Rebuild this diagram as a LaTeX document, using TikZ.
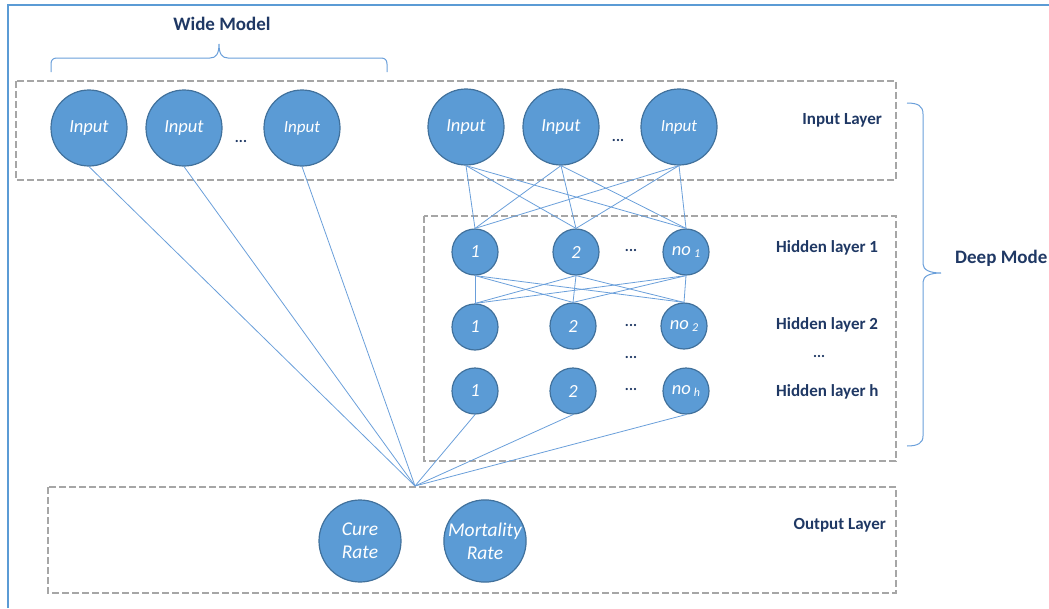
\documentclass[tikz,border=0pt]{standalone}
\usepackage{fontspec}
\setmainfont{Carlito}
\begin{document}
\begin{tikzpicture}[x=1pt,y=-1pt,
  neuron/.style={circle,draw=nodeborder,fill=nodefill,line width=1.2pt,inner sep=0pt,text=white,font=\itshape\fontsize{18.5}{18.5}\selectfont},
  bign/.style={neuron,minimum size=76pt},
  smalln/.style={neuron,minimum size=46pt},
  outn/.style={neuron,minimum size=82pt,align=center,font=\itshape\fontsize{19.5}{23}\selectfont},
  conn/.style={draw=linecol,line width=0.8pt},
  layerbox/.style={draw=boxgray,line width=1.1pt,dash pattern=on 7pt off 3pt},
  lbl/.style={text=labelcol,font=\bfseries\fontsize{17}{17}\selectfont,inner sep=0pt},
  biglbl/.style={text=labelcol,font=\bfseries\fontsize{19}{19}\selectfont,inner sep=0pt},
  dots/.style={text=labelcol,font=\bfseries\fontsize{15}{15}\selectfont,inner sep=0pt},
  bracecol/.style={draw=linecol,line width=1pt}]
\definecolor{nodefill}{HTML}{5B9BD5}
\definecolor{nodeborder}{HTML}{41719C}
\definecolor{linecol}{HTML}{6A9FDA}
\definecolor{boxgray}{HTML}{A6A6A6}
\definecolor{labelcol}{RGB}{31,56,100}
\definecolor{framecol}{HTML}{5B9BD5}
\useasboundingbox (0,0) rectangle (1049,608);
% outer frame
\draw[framecol,line width=2.5pt] (8,608) -- (8,5) -- (1049,5);
% layer boxes
\draw[layerbox] (16,81) rectangle (896,180);
\draw[layerbox] (424,216) rectangle (896,461);
\draw[layerbox] (48,487) rectangle (896,593);
% braces
\draw[bracecol] (51,72) -- (51,64) .. controls (51,60) and (53,58) .. (57,58) -- (210,58)
  .. controls (216,58) and (219,54) .. (219,44) .. controls (219,54) and (222,58) .. (228,58)
  -- (381,58) .. controls (385,58) and (387,60) .. (387,64) -- (387,72);
\draw[bracecol] (907,103) .. controls (918,103) and (923,106) .. (923,114) -- (923,264)
  .. controls (923,270) and (930,273) .. (941,273) .. controls (930,273) and (923,276) .. (923,282)
  -- (923,436) .. controls (923,443) and (918,446) .. (907,446);
% labels
\node[biglbl] (wide) at (222,24) {Wide Model};
\node[biglbl,anchor=west] (deep) at (955,258) {Deep Mode};
\node[lbl,anchor=east] (inl) at (882,120) {Input Layer};
\node[lbl,anchor=west] (hl1) at (776,248) {Hidden layer 1};
\node[lbl,anchor=west] (hl2) at (776,325) {Hidden layer 2};
\node[dots] (hld) at (819,356) {...};
\node[lbl,anchor=west] (hlh) at (776,392) {Hidden layer h};
\node[lbl,anchor=east] (outl) at (886,525) {Output Layer};
% wide inputs
\node[bign] (w1) at (89,128) {Input};
\node[bign] (w2) at (184,128) {Input};
\node[bign,font=\itshape\fontsize{17}{17}\selectfont] (w3) at (302,128) {Input};
\node[dots] (wd) at (241,141) {...};
% deep inputs
\node[bign] (d1) at (466,127) {Input};
\node[bign] (d2) at (561,127) {Input};
\node[bign,font=\itshape\fontsize{17}{17}\selectfont] (d3) at (679,127) {Input};
\node[dots] (dd) at (618,140) {...};
% hidden layers
\node[smalln] (a1) at (475,252) {1};
\node[smalln] (a2) at (576,252) {2};
\node[smalln] (a3) at (686,252) {no\,\raisebox{-2.5pt}{\fontsize{12}{12}\selectfont 1}};
\node[dots] (ad) at (631,250) {...};
\node[smalln] (b1) at (475,327) {1};
\node[smalln] (b2) at (573,326) {2};
\node[smalln] (b3) at (684,326) {no\,\raisebox{-2.5pt}{\fontsize{12}{12}\selectfont 2}};
\node[dots] (bd) at (631,325) {...};
\node[dots] (vd) at (631,357) {...};
\node[smalln] (c1) at (475,391) {1};
\node[smalln] (c2) at (573,391) {2};
\node[smalln] (c3) at (686,391) {no\,\raisebox{-2.5pt}{\fontsize{12}{12}\selectfont h}};
\node[dots] (cd) at (631,389) {...};
% outputs
\node[outn] (o1) at (360,541) {Cure\\Rate};
\node[outn] (o2) at (485,541) {Mortality\\Rate};
\coordinate (conv) at (415,486);
% connectors
\foreach \s in {d1,d2,d3}{\foreach \t in {a1,a2,a3}{\draw[conn] (\s.south) -- (\t.north);}}
\foreach \s in {a1,a2,a3}{\foreach \t in {b1,b2,b3}{\draw[conn] (\s.south) -- (\t.north);}}
\foreach \s in {w1,w2,w3,c1,c2,c3}{\draw[conn] (\s.south) -- (conv);}
\end{tikzpicture}
\end{document}
